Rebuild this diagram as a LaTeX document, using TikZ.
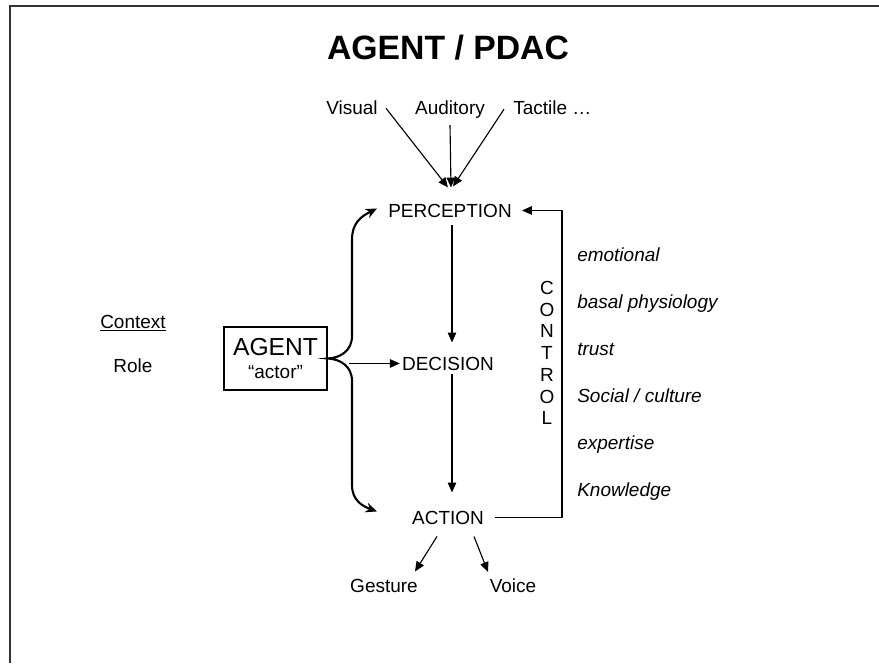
\documentclass[tikz,border=0pt]{standalone}
\usepackage{fontspec}
\setmainfont{Liberation Sans}
\usetikzlibrary{arrows.meta,calc}

\begin{document}
\begin{tikzpicture}[x=0.025cm,y=-0.025cm,font=\fontsize{13.5}{16}\selectfont,
  arr/.style={-{Triangle[length=7pt,width=6pt]},line width=0.8pt},
  brace/.style={{Stealth[length=8pt,width=7pt]}-{Stealth[length=8pt,width=7pt]},line width=1.5pt},
  word/.style={anchor=base},
  note/.style={anchor=base west,font=\fontsize{13.5}{16}\selectfont\itshape}]
\tikzstyle{every node}+=[inner sep=0pt]
\useasboundingbox (0,0) rectangle (879,663);
\draw[line width=1.5pt,black!80] (10,663) -- (10,6) -- (879,6);
\node[word] (title) at (448,60) {\fontsize{24}{28}\selectfont\bfseries AGENT / PDAC};
\node[word] (Visual) at (352,115) {Visual};
\node[word] (Auditory) at (450,115) {Auditory};
\node[anchor=base west] (Tactile) at (513,115) {Tactile …};
\node[word] (PERCEPTION) at (450,217) {PERCEPTION};
\node[word] (DECISION) at (448,370) {DECISION};
\node[word] (ACTION) at (448,524) {ACTION};
\node[word] (Gesture) at (384,592) {Gesture};
\node[word] (Voice) at (513,592) {Voice};
\node[word] (Context) at (133,328) {\underline{Context}};
\node[word] (Role) at (133,372) {Role};
\node[draw,line width=1pt,minimum width=73pt,minimum height=45pt] (agent) at (275.5,358.5) {};
\node[word] (agentname) at (275.5,355) {\fontsize{17.5}{20}\selectfont AGENT};
\node[word] (actor) at (275.5,378) {“actor”};
\node[anchor=north,align=center,font=\fontsize{13.5}{15.45}\selectfont] (CONTROL) at (547,281) {C\\O\\N\\T\\R\\O\\L};
\node[note] (emotional) at (577,261) {emotional};
\node[note] (basal) at (577,308) {basal physiology};
\node[note] (trust) at (577,355) {trust};
\node[note] (social) at (577,402) {Social / culture};
\node[note] (expertise) at (577,449) {expertise};
\node[note] (knowledge) at (577,496) {Knowledge};
\draw[arr] ($(Visual.east)+(8,0)$) -- ($(PERCEPTION.north)+(-2,-16)$);
\draw[arr] ($(Auditory.south)+(0,6)$) -- ($(PERCEPTION.north)+(1,-16)$);
\draw[arr] ($(Tactile.west)+(-9,1)$) -- ($(PERCEPTION.north)+(3,-17)$);
\draw[arr] ($(PERCEPTION.south)+(2,8)$) -- ($(DECISION.north)+(4,-14)$);
\draw[arr] ($(DECISION.south)+(4,4)$) -- ($(ACTION.north)+(4,-18)$);
\draw[arr] ($(agent.east |- DECISION.west)+(21,0)$) -- ($(DECISION.west)+(-2,0)$);
\draw[arr] ($(ACTION.east)+(11,0)$) -| ($(PERCEPTION.east)+(50,0)$) -- ($(PERCEPTION.east)+(10,0)$);
\draw[arr] ($(ACTION.south)+(-11,12)$) -- ($(Gesture.north)+(31,-7)$);
\draw[arr] ($(ACTION.south)+(26,12)$) -- ($(Voice.north)+(-25,-6)$);
\draw[brace] ($(PERCEPTION.west)+(-11,-2)$) .. controls (362,216) and (352,222) .. (352,240)
  -- (352,336) .. controls (352,351) and (340,358) .. (agent.east)
  .. controls (340,359) and (352,366) .. (352,381)
  -- (352,485) .. controls (352,500) and (362,506) .. ($(ACTION.west)+(-35,-6)$);
\end{tikzpicture}
\end{document}
